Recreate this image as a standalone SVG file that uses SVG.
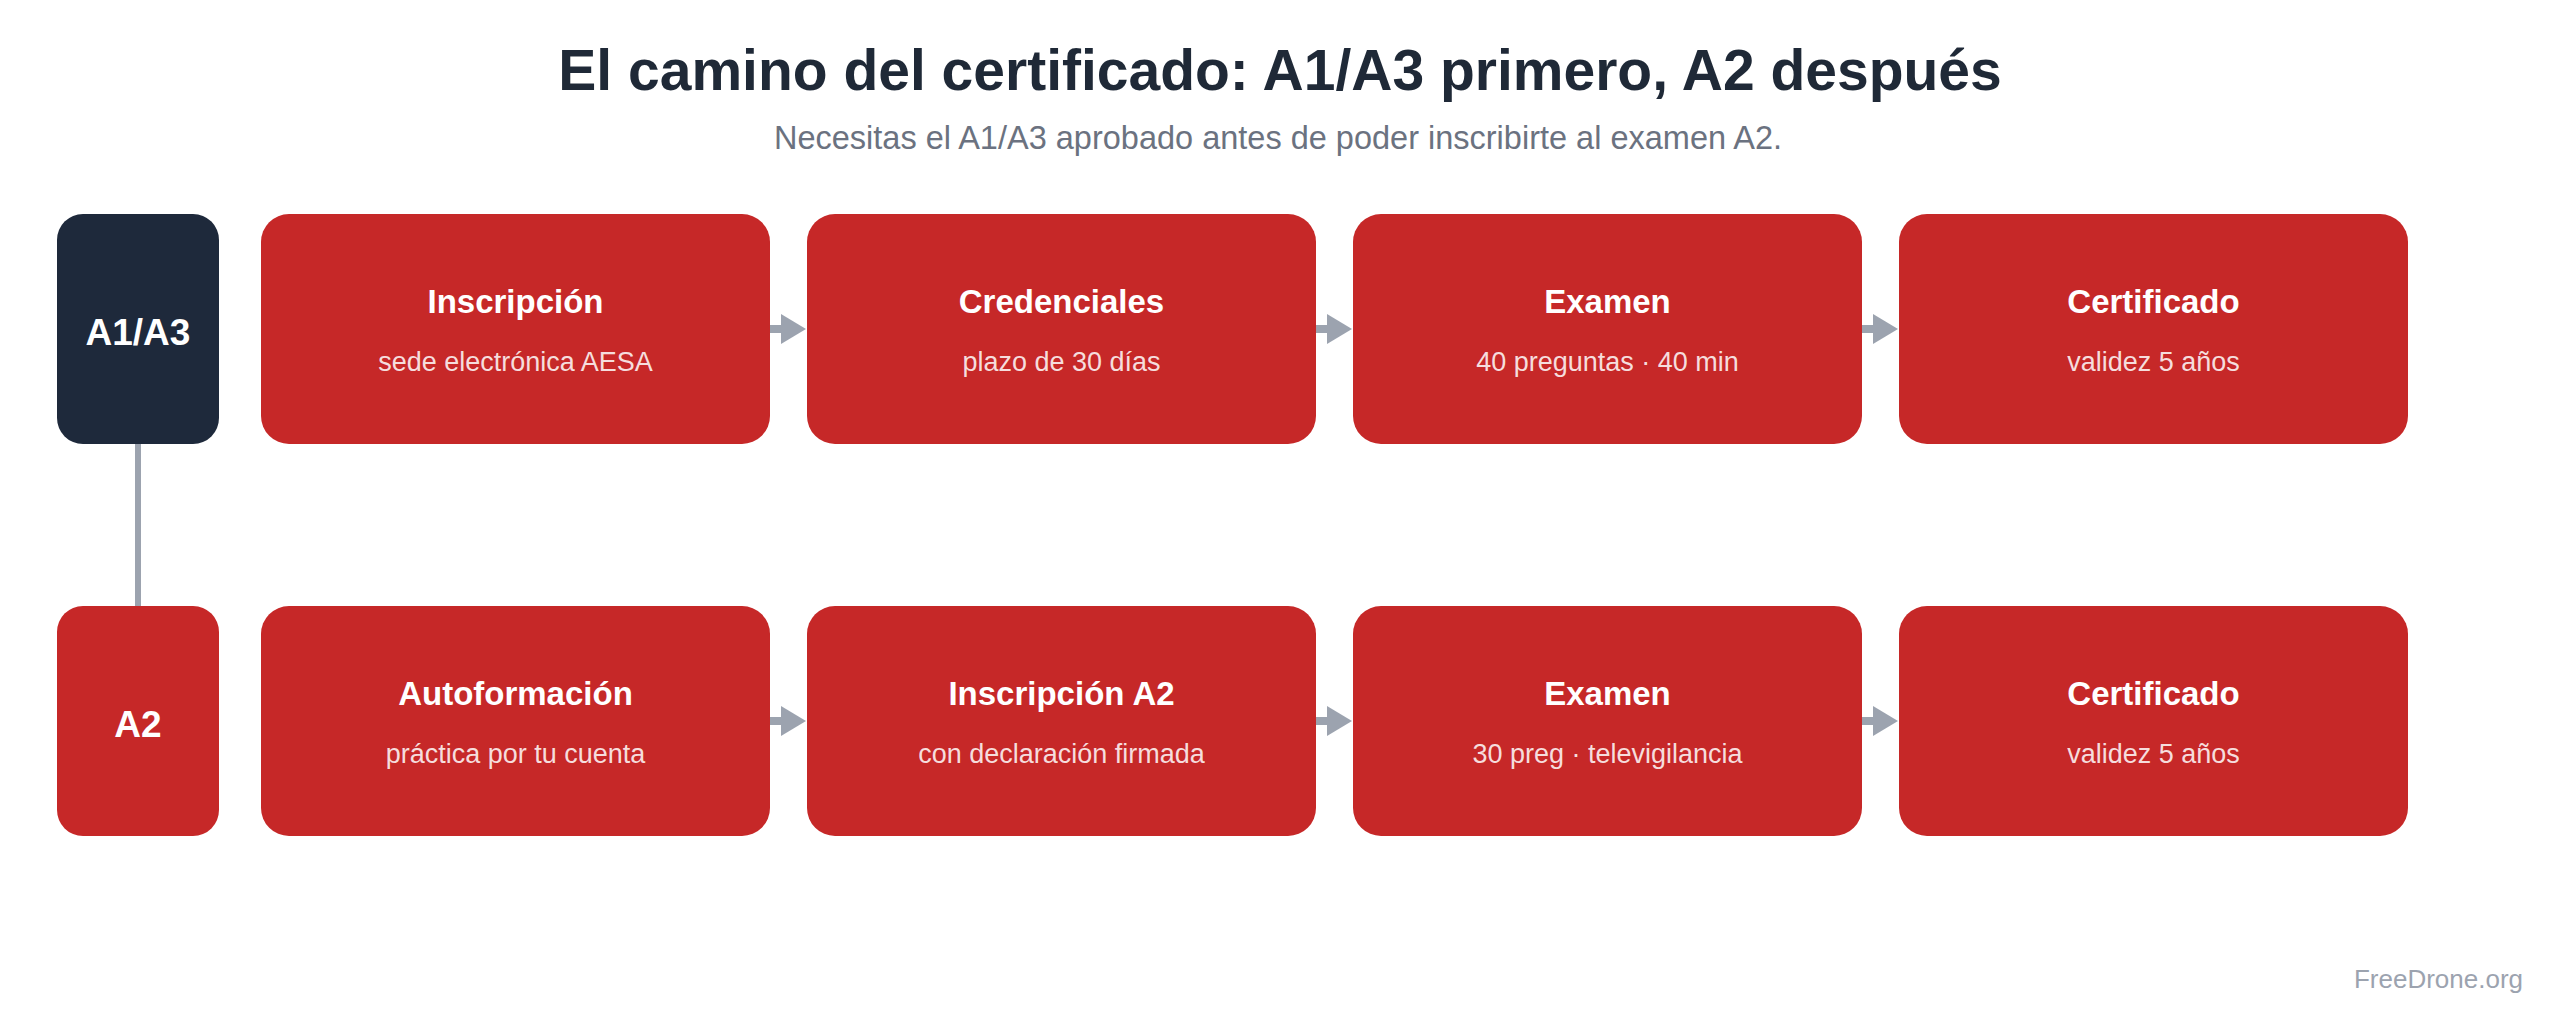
<svg xmlns="http://www.w3.org/2000/svg" width="2560" height="1019" viewBox="0 0 2560 1019">
<style>
.title{font-family:"Liberation Sans",Arial,sans-serif;font-weight:700;font-size:57px;fill:#1f2937;text-anchor:middle}
.sub{font-family:"Liberation Sans",Arial,sans-serif;font-size:32.5px;fill:#6b7280;text-anchor:middle}
.box{fill:#c62828}
.lab{fill:#1e293b}
.bt{font-family:"Liberation Sans",Arial,sans-serif;font-weight:700;font-size:33px;fill:#ffffff;text-anchor:middle}
.bs{font-family:"Liberation Sans",Arial,sans-serif;font-size:27px;fill:#ffffff;fill-opacity:0.85;text-anchor:middle}
.lt{font-family:"Liberation Sans",Arial,sans-serif;font-weight:700;font-size:37px;fill:#ffffff;text-anchor:middle}
.conn{stroke:#9ca3af;stroke-width:8;fill:none}
.vconn{stroke:#9ca3af;stroke-width:6;fill:none}
.foot{font-family:"Liberation Sans",Arial,sans-serif;font-size:26px;fill:#9ca3af;text-anchor:end}
</style>
<defs>
<marker id="ah" markerUnits="userSpaceOnUse" markerWidth="26" markerHeight="30" refX="0" refY="15" orient="auto">
<path d="M0,0 L25,15 L0,30 Z" fill="#9ca3af"/>
</marker>
</defs>
<rect width="2560" height="1019" fill="#ffffff"/>
<text class="title" x="1280" y="90">El camino del certificado: A1/A3 primero, A2 después</text>
<text class="sub" x="1278" y="149">Necesitas el A1/A3 aprobado antes de poder inscribirte al examen A2.</text>

<g id="connectors">
<line class="vconn" x1="138" y1="444" x2="138" y2="606"/>
<line class="conn" x1="770" y1="329" x2="781" y2="329" marker-end="url(#ah)"/>
<line class="conn" x1="1316" y1="329" x2="1327" y2="329" marker-end="url(#ah)"/>
<line class="conn" x1="1862" y1="329" x2="1873" y2="329" marker-end="url(#ah)"/>
<line class="conn" x1="770" y1="721" x2="781" y2="721" marker-end="url(#ah)"/>
<line class="conn" x1="1316" y1="721" x2="1327" y2="721" marker-end="url(#ah)"/>
<line class="conn" x1="1862" y1="721" x2="1873" y2="721" marker-end="url(#ah)"/>
</g>

<g id="label-a1a3">
<rect class="lab" x="57" y="214" width="162" height="230" rx="26"/>
<text class="lt" x="138" y="345">A1/A3</text>
</g>
<g id="label-a2">
<rect class="box" x="57" y="606" width="162" height="230" rx="26"/>
<text class="lt" x="138" y="737">A2</text>
</g>

<g id="r1-inscripcion">
<rect class="box" x="261" y="214" width="509" height="230" rx="28"/>
<text class="bt" x="515.5" y="313">Inscripción</text>
<text class="bs" x="515.5" y="371">sede electrónica AESA</text>
</g>
<g id="r1-credenciales">
<rect class="box" x="807" y="214" width="509" height="230" rx="28"/>
<text class="bt" x="1061.5" y="313">Credenciales</text>
<text class="bs" x="1061.5" y="371">plazo de 30 días</text>
</g>
<g id="r1-examen">
<rect class="box" x="1353" y="214" width="509" height="230" rx="28"/>
<text class="bt" x="1607.5" y="313">Examen</text>
<text class="bs" x="1607.5" y="371">40 preguntas · 40 min</text>
</g>
<g id="r1-certificado">
<rect class="box" x="1899" y="214" width="509" height="230" rx="28"/>
<text class="bt" x="2153.5" y="313">Certificado</text>
<text class="bs" x="2153.5" y="371">validez 5 años</text>
</g>

<g id="r2-autoformacion">
<rect class="box" x="261" y="606" width="509" height="230" rx="28"/>
<text class="bt" x="515.5" y="705">Autoformación</text>
<text class="bs" x="515.5" y="763">práctica por tu cuenta</text>
</g>
<g id="r2-inscripcion-a2">
<rect class="box" x="807" y="606" width="509" height="230" rx="28"/>
<text class="bt" x="1061.5" y="705">Inscripción A2</text>
<text class="bs" x="1061.5" y="763">con declaración firmada</text>
</g>
<g id="r2-examen">
<rect class="box" x="1353" y="606" width="509" height="230" rx="28"/>
<text class="bt" x="1607.5" y="705">Examen</text>
<text class="bs" x="1607.5" y="763">30 preg · televigilancia</text>
</g>
<g id="r2-certificado">
<rect class="box" x="1899" y="606" width="509" height="230" rx="28"/>
<text class="bt" x="2153.5" y="705">Certificado</text>
<text class="bs" x="2153.5" y="763">validez 5 años</text>
</g>

<text class="foot" x="2523" y="988">FreeDrone.org</text>
</svg>
